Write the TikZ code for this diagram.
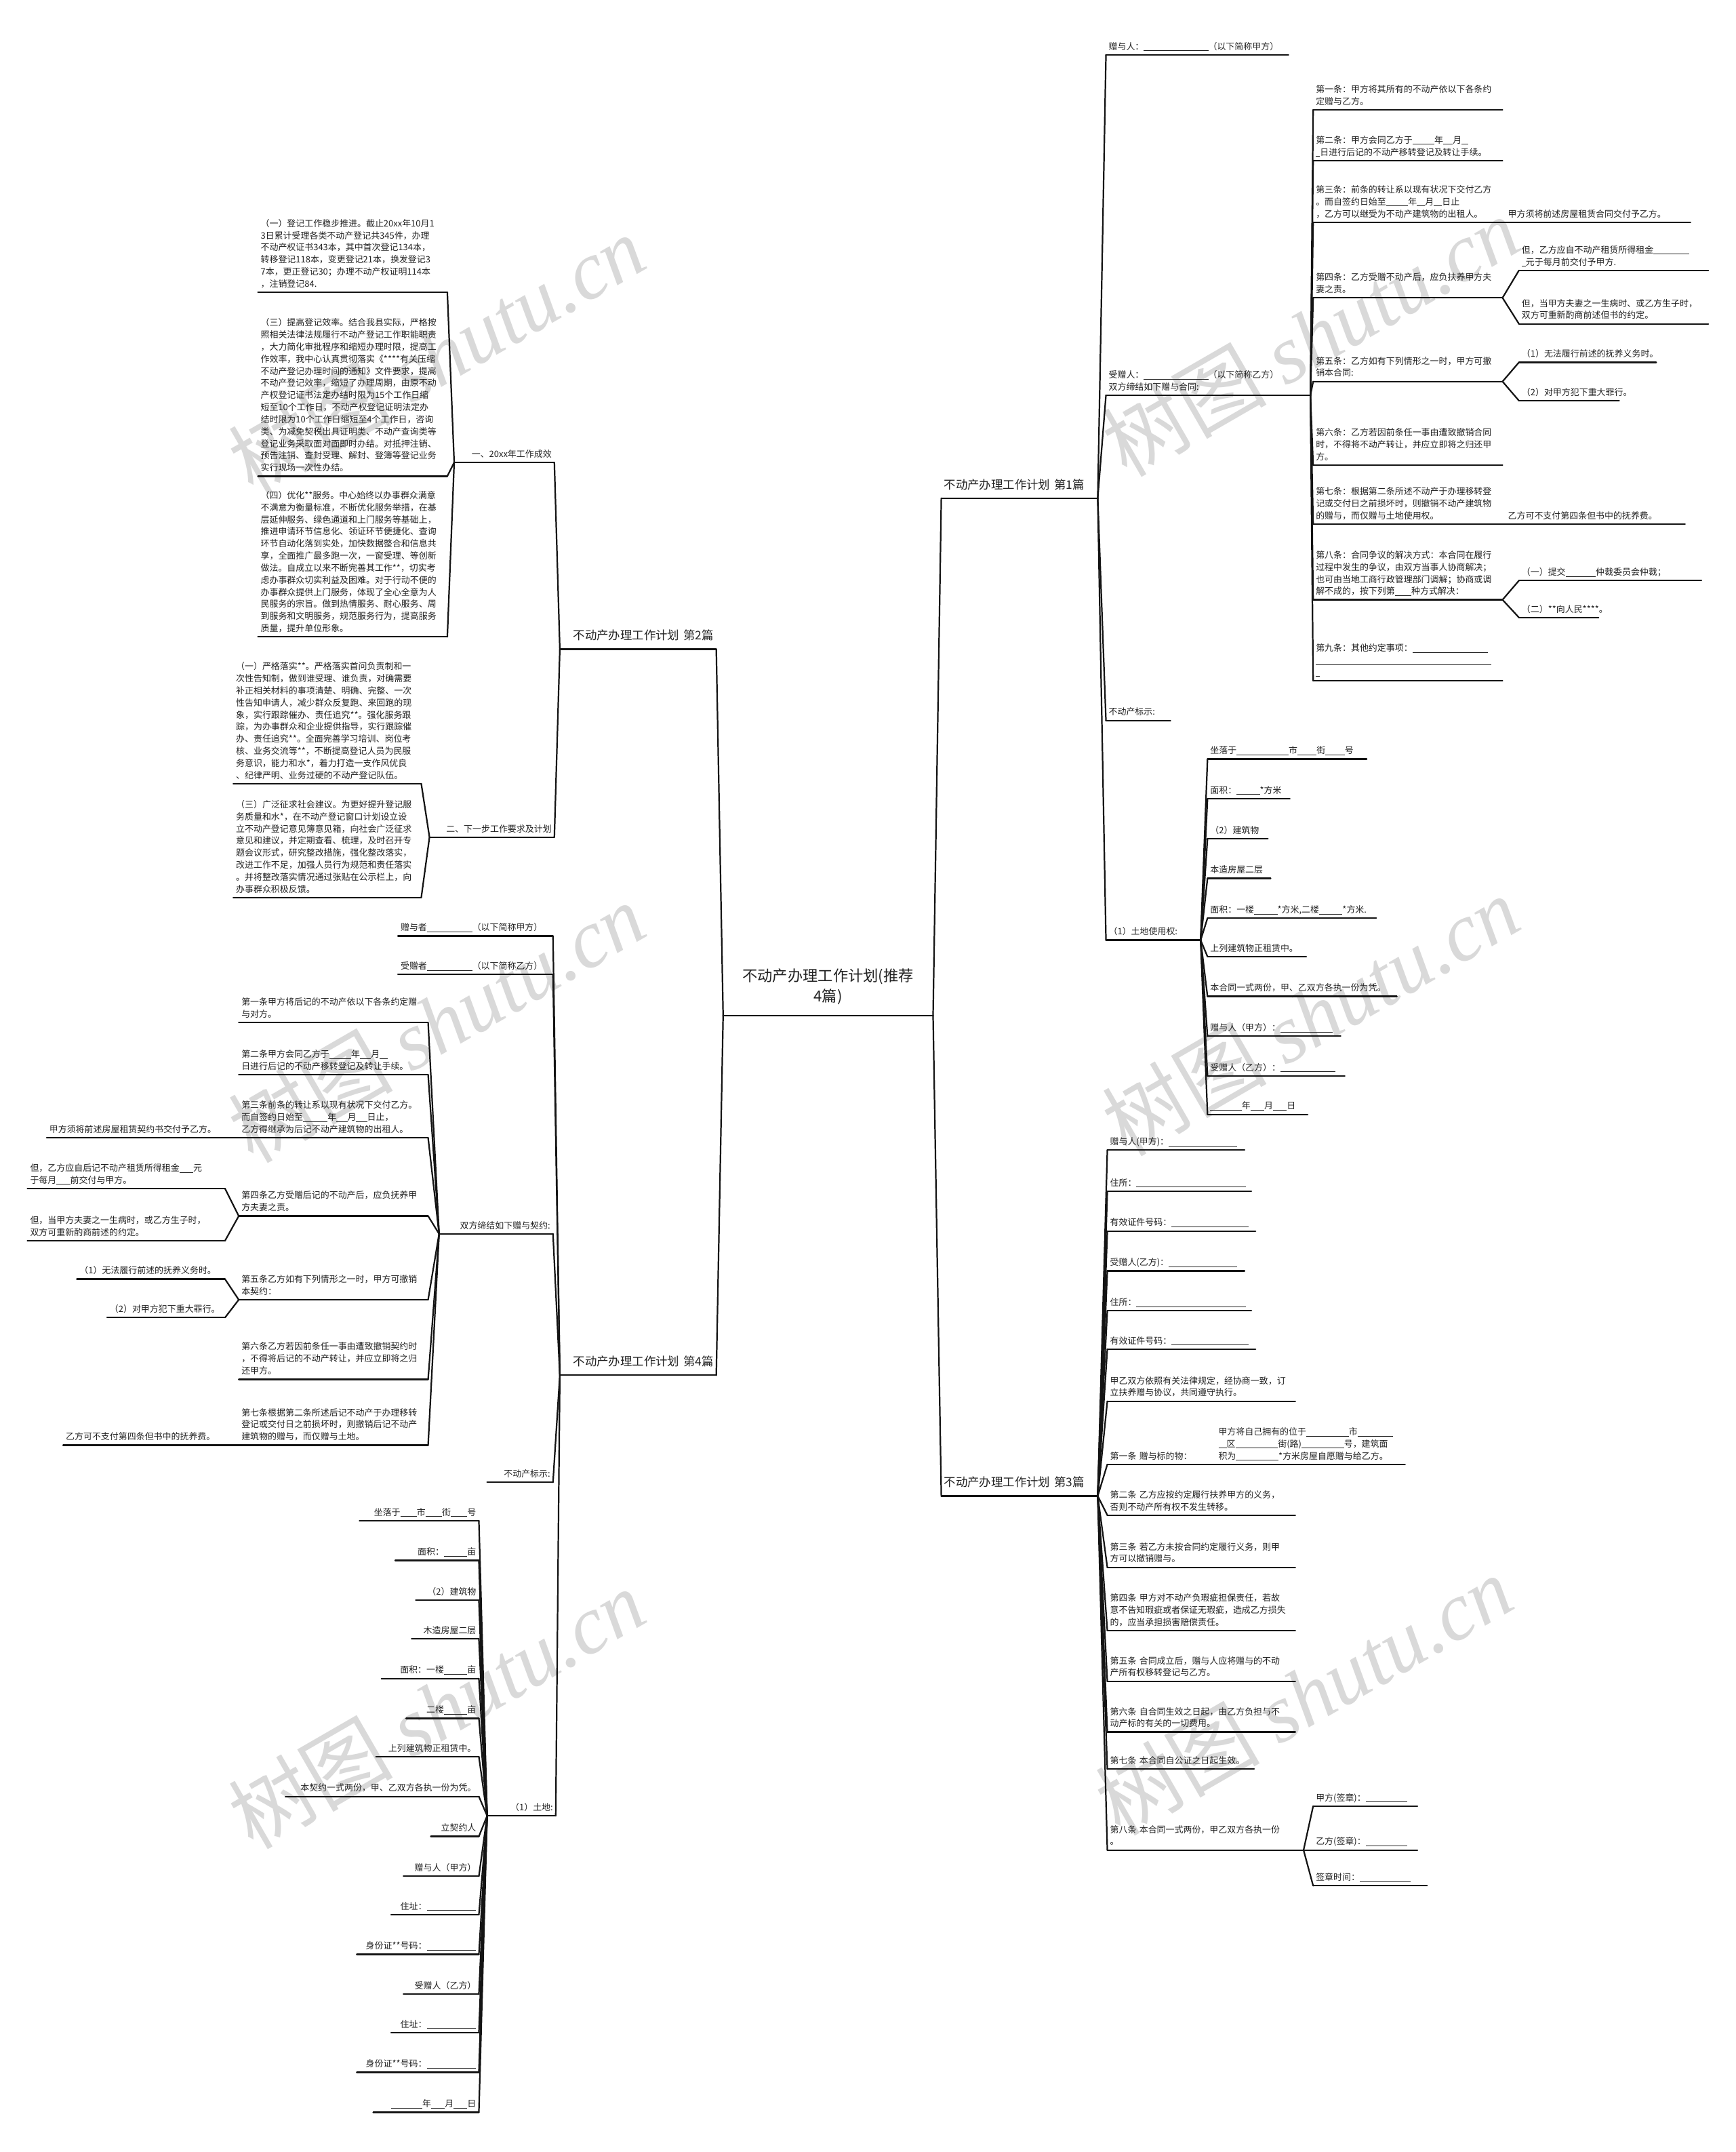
\documentclass[tikz,border=0pt]{standalone}
\usepackage{fontspec}
\setmainfont{Noto Sans CJK SC}
\newfontfamily\wmserif{Liberation Serif}
\definecolor{txt}{HTML}{222222}
\definecolor{ln}{HTML}{141414}
\definecolor{wmc}{HTML}{D9D9D9}
\newcommand\bl[1]{\rule[-0.9pt]{#1pt}{0.35pt}}
\tikzset{
  nd/.style={inner xsep=2pt,inner ysep=1.2pt,outer sep=0pt,text=txt,font=\fontsize{6.4}{8.8}\selectfont},
  lvone/.style={inner xsep=2pt,inner ysep=3.5pt,outer sep=0pt,text=txt,font=\fontsize{8.6}{11}\selectfont},
  rootn/.style={inner xsep=6.5pt,inner ysep=5.5pt,outer sep=0pt,text=txt,font=\fontsize{11}{15}\selectfont},
  ul/.style={draw=ln,line width=1.15pt,line cap=round},
  cn/.style={draw=ln,line width=1.1pt,line cap=round},
  wm/.style={rotate=30,inner sep=0pt,text=wmc,font=\fontsize{60}{60}\selectfont}
}
\newcommand\mnode[7][nd]{%
  \pgfmathsetmacro\mytw{#4-#3-4}%
  \node[#1,text width=\mytw pt,align=#6,anchor=south west] (#2) at (#3,#5) {#7\strut};%
  \draw[ul] (#2.south west) -- (#2.south east);%
}
\begin{document}
\begin{tikzpicture}[x=1pt,y=-1pt]
\useasboundingbox (0,0) rectangle (1265,1568);
\fill[white] (0,0) rectangle (1265,1568);
% watermarks
\node[wm] (wma) at (318,258) {树图 {\wmserif\itshape shutu.cn}};
\node[wm] (wmb) at (955,245) {树图 {\wmserif\itshape shutu.cn}};
\node[wm] (wmc) at (318,745) {树图 {\wmserif\itshape shutu.cn}};
\node[wm] (wmd) at (955,740) {树图 {\wmserif\itshape shutu.cn}};
\node[wm] (wme) at (318,1245) {树图 {\wmserif\itshape shutu.cn}};
\node[wm] (wmf) at (950,1235) {树图 {\wmserif\itshape shutu.cn}};
% root
\node[rootn,anchor=south,text width=140pt,align=center] (root) at (603.5,740) {不动产办理工作计划(推荐\\4篇)\strut};
\draw[ul] (root.south west) -- (root.south east);
% level one
\mnode[lvone]{pa}{686}{800}{363}{left}{不动产办理工作计划 第1篇}
\mnode[lvone]{pc}{686}{800}{1090}{left}{不动产办理工作计划 第3篇}
\mnode[lvone]{pb}{408}{522}{473}{right}{不动产办理工作计划 第2篇}
\mnode[lvone]{pd}{408}{522}{1002}{right}{不动产办理工作计划 第4篇}
% ===== part 1 =====
\mnode{aa}{806}{939}{40}{left}{赠与人：\bl{47}（以下简称甲方）}
\mnode{ab}{806}{955}{288}{left}{受赠人：\bl{47}（以下简称乙方）\\双方缔结如下赠与合同:}
\mnode{ac}{806}{853}{525}{left}{不动产标示:}
\mnode{ad}{806}{875}{685}{left}{（1）土地使用权:}
\mnode{ba}{957}{1095}{80}{left}{第一条：甲方将其所有的不动产依以下各条约\\定赠与乙方。}
\mnode{bb}{957}{1095}{117}{left}{第二条：甲方会同乙方于\bl{16}年\bl{7}月\bl{5}\\\bl{3}日进行后记的不动产移转登记及转让手续。}
\mnode{bc}{957}{1095}{162}{left}{第三条：前条的转让系以现有状况下交付乙方\\。而自签约日始至\bl{16}年\bl{6}月\bl{6}日止\\，乙方可以继受为不动产建筑物的出租人。}
\mnode{bca}{1097}{1232}{162}{left}{甲方须将前述房屋租赁合同交付予乙方。}
\mnode{bd}{957}{1095}{217}{left}{第四条：乙方受赠不动产后，应负扶养甲方夫\\妻之责。}
\mnode{bda}{1107}{1245}{197}{left}{但，乙方应自不动产租赁所得租金\bl{26}\\\bl{3}元于每月前交付予甲方.}
\mnode{bdb}{1107}{1245}{236}{left}{但，当甲方夫妻之一生病时、或乙方生子时，\\双方可重新酌商前述但书的约定。}
\mnode{be}{957}{1095}{278}{left}{第五条：乙方如有下列情形之一时，甲方可撤\\销本合同:}
\mnode{bea}{1107}{1207}{264}{left}{（1）无法履行前述的抚养义务时。}
\mnode{beb}{1107}{1180}{292}{left}{（2）对甲方犯下重大罪行。}
\mnode{bf}{957}{1095}{339}{left}{第六条：乙方若因前条任一事由遭致撤销合同\\时，不得将不动产转让，并应立即将之归还甲\\方。}
\mnode{bg}{957}{1095}{382}{left}{第七条：根据第二条所述不动产于办理移转登\\记或交付日之前损坏时，则撤销不动产建筑物\\的赠与，而仅赠与土地使用权。}
\mnode{bga}{1097}{1228}{382}{left}{乙方可不支付第四条但书中的抚养费。}
\mnode{bh}{957}{1095}{437}{left}{第八条：合同争议的解决方式：本合同在履行\\过程中发生的争议，由双方当事人协商解决；\\也可由当地工商行政管理部门调解；协商或调\\解不成的，按下列第\bl{12}种方式解决：}
\mnode{bha}{1107}{1240}{423}{left}{（一）提交\bl{22}仲裁委员会仲裁；}
\mnode{bhb}{1107}{1165}{450}{left}{（二）**向人民****。}
\mnode{bi}{957}{1095}{496}{left}{第九条：其他约定事项：\bl{55}\\\bl{128}\\\bl{3}}
\mnode{da}{880}{996}{553}{left}{坐落于\bl{38}市\bl{14}街\bl{14}号}
\mnode{db}{880}{940}{582}{left}{面积：\bl{17}*方米}
\mnode{dc}{880}{924}{611}{left}{（2）建筑物}
\mnode{dd}{880}{926}{640}{left}{本造房屋二层}
\mnode{de}{880}{1003}{669}{left}{面积：一楼\bl{17}*方米,二楼\bl{17}*方米.}
\mnode{df}{880}{952}{697}{left}{上列建筑物正租赁中。}
\mnode{dg}{880}{1018}{726}{left}{本合同一式两份，甲、乙双方各执一份为凭。}
\mnode{dh}{880}{977}{755}{left}{赠与人（甲方）：\bl{38}}
\mnode{di}{880}{980}{784}{left}{受赠人（乙方）：\bl{40}}
\mnode{dj}{880}{953}{812}{left}{\bl{23}年\bl{10}月\bl{10}日}
% ===== part 3 =====
\mnode{ca}{807}{907}{838}{left}{赠与人(甲方)：\bl{50}}
\mnode{cb}{807}{912}{868}{left}{住所：\bl{80}}
\mnode{cc}{807}{915}{897}{left}{有效证件号码：\bl{56}}
\mnode{cd}{807}{907}{926}{left}{受赠人(乙方)：\bl{50}}
\mnode{ce}{807}{912}{955}{left}{住所：\bl{80}}
\mnode{cf}{807}{915}{983}{left}{有效证件号码：\bl{56}}
\mnode{cg}{807}{944}{1021}{left}{甲乙双方依照有关法律规定，经协商一致，订\\立扶养赠与协议，共同遵守执行。}
\mnode{ch}{807}{1024}{1067}{left}{\makebox[79pt][l]{第一条 赠与标的物：}\parbox[b]{134pt}{甲方将自己拥有的位于\bl{31}市\bl{26}\\\bl{6}区\bl{31}街(路)\bl{31}号，建筑面\\积为\bl{31}*方米房屋自愿赠与给乙方。}}
\mnode{ci}{807}{944}{1104}{left}{第二条 乙方应按约定履行扶养甲方的义务，\\否则不动产所有权不发生转移。}
\mnode{cj}{807}{944}{1142}{left}{第三条 若乙方未按合同约定履行义务，则甲\\方可以撤销赠与。}
\mnode{ck}{807}{944}{1188}{left}{第四条 甲方对不动产负瑕疵担保责任，若故\\意不告知瑕疵或者保证无瑕疵，造成乙方损失\\的，应当承担损害赔偿责任。}
\mnode{cl}{807}{944}{1225}{left}{第五条 合同成立后，赠与人应将赠与的不动\\产所有权移转登记与乙方。}
\mnode{cm}{807}{944}{1262}{left}{第六条 自合同生效之日起，由乙方负担与不\\动产标的有关的一切费用。}
\mnode{cn}{807}{914}{1289}{left}{第七条 本合同自公证之日起生效。}
\mnode{co}{807}{950}{1348}{left}{第八条 本合同一式两份，甲乙双方各执一份\\。}
\mnode{coa}{957}{1033}{1316}{left}{甲方(签章)：\bl{30}}
\mnode{cob}{957}{1033}{1348}{left}{乙方(签章)：\bl{30}}
\mnode{coc}{957}{1040}{1374}{left}{签章时间：\bl{37}}
% ===== part 2 =====
\mnode{ea}{331}{404}{337}{right}{一、20xx年工作成效}
\mnode{eb}{313}{404}{610}{right}{二、下一步工作要求及计划}
\mnode{fa}{188}{326}{213}{left}{（一）登记工作稳步推进。截止20xx年10月1\\3日累计受理各类不动产登记共345件，办理\\不动产权证书343本，其中首次登记134本，\\转移登记118本，变更登记21本，换发登记3\\7本，更正登记30；办理不动产权证明114本\\，注销登记84.}
\mnode{fb}{188}{326}{347}{left}{（三）提高登记效率。结合我县实际，严格按\\照相关法律法规履行不动产登记工作职能职责\\，大力简化审批程序和缩短办理时限，提高工\\作效率，我中心认真贯彻落实《****有关压缩\\不动产登记办理时间的通知》文件要求，提高\\不动产登记效率，缩短了办理周期，由原不动\\产权登记证书法定办结时限为15个工作日缩\\短至10个工作日，不动产权登记证明法定办\\结时限为10个工作日缩短至4个工作日，咨询\\类、为减免契税出具证明类、不动产查询类等\\登记业务采取面对面即时办结。对抵押注销、\\预告注销、查封受理、解封、登簿等登记业务\\实行现场一次性办结。}
\mnode{fc}{188}{326}{464}{left}{（四）优化**服务。中心始终以办事群众满意\\不满意为衡量标准，不断优化服务举措，在基\\层延伸服务、绿色通道和上门服务等基础上，\\推进申请环节信息化、领证环节便捷化、查询\\环节自动化落到实处，加快数据整合和信息共\\享，全面推广最多跑一次，一窗受理、等创新\\做法。自成立以来不断完善其工作**，切实考\\虑办事群众切实利益及困难。对于行动不便的\\办事群众提供上门服务，体现了全心全意为人\\民服务的宗旨。做到热情服务、耐心服务、周\\到服务和文明服务，规范服务行为，提高服务\\质量，提升单位形象。}
\mnode{ga}{170}{307}{571}{left}{（一）严格落实**。严格落实首问负责制和一\\次性告知制，做到谁受理、谁负责，对确需要\\补正相关材料的事项清楚、明确、完整、一次\\性告知申请人，减少群众反复跑、来回跑的现\\象，实行跟踪催办、责任追究**。强化服务跟\\踪，为办事群众和企业提供指导，实行跟踪催\\办、责任追究**。全面完善学习培训、岗位考\\核、业务交流等**，不断提高登记人员为民服\\务意识，能力和水*，着力打造一支作风优良\\、纪律严明、业务过硬的不动产登记队伍。}
\mnode{gb}{170}{307}{654}{left}{（三）广泛征求社会建议。为更好提升登记服\\务质量和水*，在不动产登记窗口计划设立设\\立不动产登记意见簿意见箱，向社会广泛征求\\意见和建议，并定期查看、梳理，及时召开专\\题会议形式，研究整改措施，强化整改落实，\\改进工作不足，加强人员行为规范和责任落实\\。并将整改落实情况通过张贴在公示栏上，向\\办事群众积极反馈。}
% ===== part 4 =====
\mnode{ha}{290}{403}{682}{left}{赠与者\bl{33}（以下简称甲方）}
\mnode{hb}{290}{403}{710}{left}{受赠者\bl{33}（以下简称乙方）}
\mnode{hc}{320}{403}{899}{right}{双方缔结如下赠与契约:}
\mnode{hd}{355}{403}{1080}{right}{不动产标示:}
\mnode{he}{355}{405}{1323}{right}{（1）土地:}
\mnode{ia}{174}{312}{745}{left}{第一条甲方将后记的不动产依以下各条约定赠\\与对方。}
\mnode{ib}{174}{312}{783}{left}{第二条甲方会同乙方于\bl{16}年\bl{8}月\bl{6}\\日进行后记的不动产移转登记及转让手续。}
\mnode{ic}{174}{312}{829}{left}{第三条前条的转让系以现有状况下交付乙方。\\而自签约日始至\bl{18}年\bl{8}月\bl{8}日止，\\乙方得继承为后记不动产建筑物的出租人。}
\mnode{ica}{34}{170}{829}{left}{甲方须将前述房屋租赁契约书交付予乙方。}
\mnode{id}{174}{312}{886}{left}{第四条乙方受赠后记的不动产后，应负抚养甲\\方夫妻之责。}
\mnode{ida}{20}{164}{866}{left}{但，乙方应自后记不动产租赁所得租金\bl{10}元\\于每月\bl{10}前交付与甲方。}
\mnode{idb}{20}{164}{904}{left}{但，当甲方夫妻之一生病时，或乙方生子时，\\双方可重新酌商前述的约定。}
\mnode{ie}{174}{312}{947}{left}{第五条乙方如有下列情形之一时，甲方可撤销\\本契约：}
\mnode{iea}{56}{164}{932}{left}{（1）无法履行前述的抚养义务时。}
\mnode{ieb}{78}{164}{960}{left}{（2）对甲方犯下重大罪行。}
\mnode{if}{174}{312}{1005}{left}{第六条乙方若因前条任一事由遭致撤销契约时\\，不得将后记的不动产转让，并应立即将之归\\还甲方。}
\mnode{ig}{174}{312}{1053}{left}{第七条根据第二条所述后记不动产于办理移转\\登记或交付日之前损坏时，则撤销后记不动产\\建筑物的赠与，而仅赠与土地。}
\mnode{iga}{46}{170}{1053}{left}{乙方可不支付第四条但书中的抚养费。}
\mnode{ja}{262}{349}{1108}{right}{坐落于\bl{12}市\bl{12}街\bl{12}号}
\mnode{jb}{288}{349}{1137}{right}{面积：\bl{17}亩}
\mnode{jc}{303}{349}{1166}{right}{（2）建筑物}
\mnode{jd}{300}{349}{1194}{right}{木造房屋二层}
\mnode{je}{278}{349}{1223}{right}{面积：一楼\bl{17}亩}
\mnode{jf}{296}{349}{1252}{right}{二楼\bl{17}亩}
\mnode{jg}{274}{349}{1280}{right}{上列建筑物正租赁中。}
\mnode{jh}{208}{349}{1309}{right}{本契约一式两份，甲、乙双方各执一份为凭。}
\mnode{ji}{314}{349}{1338}{right}{立契约人}
\mnode{jj}{294}{349}{1367}{right}{赠与人（甲方）}
\mnode{jk}{285}{349}{1395}{right}{住址：\bl{36}}
\mnode{jl}{260}{349}{1424}{right}{身份证**号码：\bl{36}}
\mnode{jm}{294}{349}{1453}{right}{受赠人（乙方）}
\mnode{jn}{285}{349}{1481}{right}{住址：\bl{36}}
\mnode{jo}{260}{349}{1510}{right}{身份证**号码：\bl{36}}
\mnode{jp}{272}{349}{1539}{right}{\bl{23}年\bl{10}月\bl{10}日}
% ===== connectors =====
\foreach \c in {pa,pc} {\draw[cn] (root.south east) -- (\c.south west);}
\foreach \c in {pb,pd} {\draw[cn] (root.south west) -- (\c.south east);}
\foreach \c in {aa,ab,ac,ad} {\draw[cn] (pa.south east) -- (\c.south west);}
\foreach \c in {ba,bb,bc,bd,be,bf,bg,bh,bi} {\draw[cn] (ab.south east) -- (\c.south west);}
\draw[cn] (bc.south east) -- (bca.south west);
\foreach \c in {bda,bdb} {\draw[cn] (bd.south east) -- (\c.south west);}
\foreach \c in {bea,beb} {\draw[cn] (be.south east) -- (\c.south west);}
\draw[cn] (bg.south east) -- (bga.south west);
\foreach \c in {bha,bhb} {\draw[cn] (bh.south east) -- (\c.south west);}
\foreach \c in {da,db,dc,dd,de,df,dg,dh,di,dj} {\draw[cn] (ad.south east) -- (\c.south west);}
\foreach \c in {ca,cb,cc,cd,ce,cf,cg,ch,ci,cj,ck,cl,cm,cn,co} {\draw[cn] (pc.south east) -- (\c.south west);}
\foreach \c in {coa,cob,coc} {\draw[cn] (co.south east) -- (\c.south west);}
\foreach \c in {ea,eb} {\draw[cn] (pb.south west) -- (\c.south east);}
\foreach \c in {fa,fb,fc} {\draw[cn] (ea.south west) -- (\c.south east);}
\foreach \c in {ga,gb} {\draw[cn] (eb.south west) -- (\c.south east);}
\foreach \c in {ha,hb,hc,hd,he} {\draw[cn] (pd.south west) -- (\c.south east);}
\foreach \c in {ia,ib,ic,id,ie,if,ig} {\draw[cn] (hc.south west) -- (\c.south east);}
\draw[cn] (ic.south west) -- (ica.south east);
\foreach \c in {ida,idb} {\draw[cn] (id.south west) -- (\c.south east);}
\foreach \c in {iea,ieb} {\draw[cn] (ie.south west) -- (\c.south east);}
\draw[cn] (ig.south west) -- (iga.south east);
\foreach \c in {ja,jb,jc,jd,je,jf,jg,jh,ji,jj,jk,jl,jm,jn,jo,jp} {\draw[cn] (he.south west) -- (\c.south east);}
\end{tikzpicture}
\end{document}
